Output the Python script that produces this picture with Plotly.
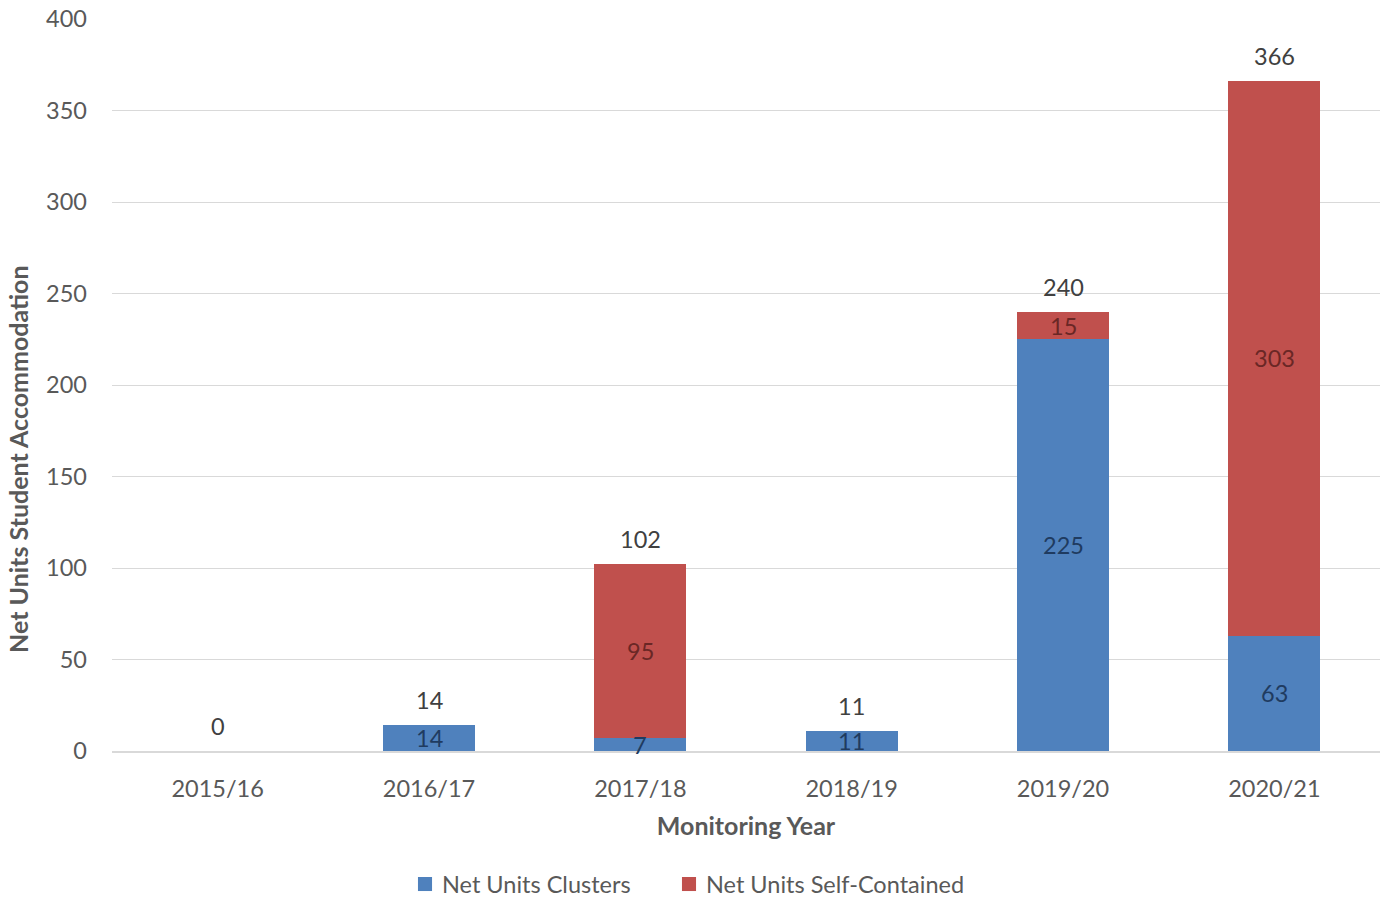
import plotly.graph_objects as go

years = ["2015/16", "2016/17", "2017/18", "2018/19", "2019/20", "2020/21"]
clusters = [0, 14, 7, 11, 225, 63]
self_contained = [0, 0, 95, 0, 15, 303]
totals = [c + s for c, s in zip(clusters, self_contained)]
series_names = ["Net Units Clusters", "Net Units Self-Contained"]

BLUE = "#4F81BD"
RED = "#C0504D"
FONT = "Lato, Calibri, Carlito, sans-serif"
GREY = "#595959"

fig = go.Figure()
fig.add_trace(go.Bar(x=years, y=clusters, name=series_names[0], showlegend=False,
                     marker=dict(color=BLUE, line=dict(width=0))))
fig.add_trace(go.Bar(x=years, y=self_contained, name=series_names[1], showlegend=False,
                     marker=dict(color=RED, line=dict(width=0))))

# segment labels centred in each stacked piece
for yr, c, s in zip(years, clusters, self_contained):
    if c > 0:
        fig.add_annotation(x=yr, y=c / 2, text=str(c), showarrow=False,
                           font=dict(family=FONT, size=23.5, color="#1F3B60"))
    if s > 0:
        fig.add_annotation(x=yr, y=c + s / 2, text=str(s), showarrow=False,
                           font=dict(family=FONT, size=23.5, color="#6A2725"))

# totals above each bar
for yr, t in zip(years, totals):
    fig.add_annotation(x=yr, y=t, text=str(t), showarrow=False, yanchor="bottom",
                       yshift=9, font=dict(family=FONT, size=23.5, color="#404040"))

# vertical axis title, centred on the whole chart height
fig.add_annotation(xref="paper", yref="paper", x=-0.0741, y=0.399,
                   xanchor="center", yanchor="middle", textangle=-90,
                   text="<b>Net Units Student Accommodation</b>", showarrow=False,
                   font=dict(family=FONT, size=25, color=GREY))

# legend below the axis title: square swatch + label for each series
legend_items = [(series_names[0], BLUE, 0.2413), (series_names[1], RED, 0.4495)]
for label, colour, x0 in legend_items:
    fig.add_shape(type="rect", xref="paper", yref="paper",
                  x0=x0, x1=x0 + 0.0111, y0=-0.1913, y1=-0.1721,
                  fillcolor=colour, line=dict(width=0))
    fig.add_annotation(xref="paper", yref="paper", x=x0 + 0.0175, y=-0.1817,
                       xanchor="left", yanchor="middle", text=label, showarrow=False,
                       font=dict(family=FONT, size=23.5, color=GREY))

fig.update_layout(
    barmode="stack",
    bargap=0.565,
    width=1387, height=899,
    margin=dict(l=112, r=7, t=19, b=148, autoexpand=False),
    paper_bgcolor="white", plot_bgcolor="white",
    font=dict(family=FONT, size=23.5, color=GREY),
    showlegend=False,
    xaxis=dict(title=dict(text="<b>Monitoring Year</b>", standoff=17,
                          font=dict(size=25, color=GREY)),
               showgrid=False, showline=True, linecolor="#D9D9D9", linewidth=1.5,
               ticks="", ticklabelstandoff=16, automargin=False,
               tickfont=dict(size=23.5, color=GREY)),
    yaxis=dict(range=[0, 400], dtick=50, showgrid=True, gridcolor="#D9D9D9",
               gridwidth=1.3, zeroline=False, showline=False, ticks="",
               ticklabelstandoff=24, automargin=False,
               tickfont=dict(size=23.5, color=GREY)),
)

fig.write_html("out.html")
